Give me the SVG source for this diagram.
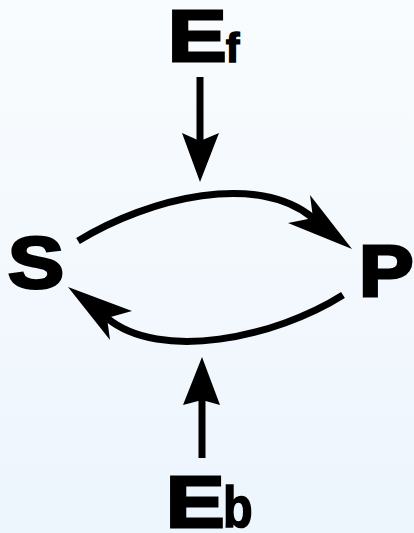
<svg xmlns="http://www.w3.org/2000/svg" width="414" height="533" viewBox="0 0 414 533">
  <defs>
    <linearGradient id="bg" x1="0" y1="0" x2="0" y2="1">
      <stop offset="0" stop-color="#f9fcfe"/>
      <stop offset="1" stop-color="#edf5fd"/>
    </linearGradient>
  </defs>
  <style>
    .big { font-family: "Liberation Sans", Arial, sans-serif; font-weight: bold; font-size: 73px; fill: #000; stroke: #000; stroke-width: 3; stroke-linejoin: miter; }
    .sub { font-family: "Liberation Sans", Arial, sans-serif; font-weight: bold; fill: #000; stroke: #000; stroke-width: 1.6; }
    .line { fill: none; stroke: #000; stroke-width: 7; }
    .head { fill: #000; stroke: none; }
  </style>
  <rect width="414" height="533" fill="url(#bg)"/>

  <!-- enzyme, forward -->
  <g id="Ef">
    <text class="big" transform="translate(168,61) scale(1.2,1)">E</text>
    <text class="sub" font-size="40" x="226" y="61.5">f</text>
  </g>

  <!-- substrate -->
  <g id="S">
    <text class="big" transform="translate(8,288) scale(1.15,1)">S</text>
  </g>

  <!-- product -->
  <g id="P">
    <text class="big" transform="translate(359,296) scale(1.12,1)">P</text>
  </g>

  <!-- enzyme, backward -->
  <g id="Eb">
    <text class="big" transform="translate(166,527) scale(1.2,1)">E</text>
    <text class="sub" font-size="57" transform="translate(223,527) scale(0.85,1)">b</text>
  </g>

  <g id="connectors">
    <!-- Ef acts on the forward step -->
    <line class="line" x1="200" y1="77" x2="200" y2="145"/>
    <path class="head" d="M200,182 L182,133 L200,141 L219,133 Z"/>
    <!-- S to P -->
    <path class="line" d="M78,241 C150,197 258,172 313,218"/>
    <path class="head" d="M352,249 L310,195 L313,218 L288,223 Z"/>
    <!-- P to S -->
    <path class="line" d="M343,295 C275,338 160,362 107,318"/>
    <path class="head" d="M68,287 L132,311 L107,318 L110,340 Z"/>
    <!-- Eb acts on the backward step -->
    <line class="line" x1="202" y1="458" x2="202" y2="398"/>
    <path class="head" d="M202,357 L183,405 L202,400 L220,405 Z"/>
  </g>
</svg>
